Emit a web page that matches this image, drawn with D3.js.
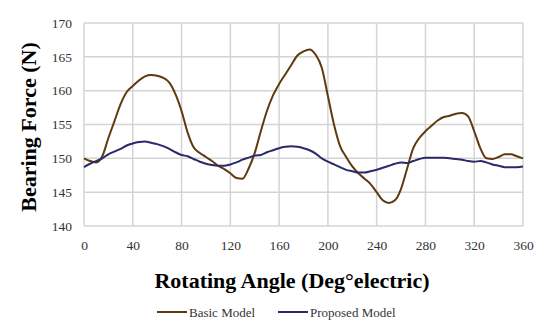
<!DOCTYPE html>
<html>
<head>
<meta charset="utf-8">
<script src="https://cdn.jsdelivr.net/npm/d3@7"></script>
<style>
  body { margin: 0; background: #fff; }
  svg { display: block; }
  .tick text { font-family: "Liberation Serif", "DejaVu Serif", serif; font-size: 13.5px; fill: #333; }
  .title { font-family: "Liberation Serif", serif; font-weight: bold; font-size: 22px; fill: #000; }
  .legend text { font-family: "Liberation Serif", serif; font-size: 13px; fill: #333; }
</style>
</head>
<body>
<div id="chart"></div>
<script>
'use strict';

// rotating angle, deg electric
var angles = [0, 5, 10, 15, 20, 25, 30, 35, 40, 45, 50, 55, 60, 65, 70, 75, 80, 85, 90,
  95, 100, 105, 110, 115, 120, 125, 130, 135, 140, 145, 150, 155, 160, 165, 170, 175, 180,
  185, 190, 195, 200, 205, 210, 215, 220, 225, 230, 235, 240, 245, 250, 255, 260, 265, 270,
  275, 280, 285, 290, 295, 300, 305, 310, 315, 320, 325, 330, 335, 340, 345, 350, 355, 360];

var basicModel = [150.0, 149.6, 149.4, 150.3, 153.0, 155.5, 158.0, 159.8, 160.7, 161.5,
  162.1, 162.3, 162.2, 161.9, 161.2, 159.5, 157.0, 153.8, 151.6, 150.8, 150.2, 149.6,
  148.9, 148.4, 147.8, 147.1, 147.0, 148.5, 150.8, 154.0, 157.0, 159.3, 161.0, 162.4,
  163.8, 165.2, 165.8, 166.1, 165.3, 163.4, 159.2, 155.0, 151.8, 150.2, 148.8, 147.8,
  147.0, 146.2, 145.0, 143.8, 143.4, 143.8, 145.5, 148.5, 151.5, 153.0, 154.0, 154.8,
  155.6, 156.1, 156.3, 156.6, 156.7, 156.2, 154.0, 151.5, 150.0, 149.9, 150.2, 150.6,
  150.6, 150.3, 150.0];

var proposedModel = [148.7, 149.2, 149.6, 150.0, 150.6, 151.0, 151.4, 151.9, 152.2, 152.4,
  152.5, 152.3, 152.1, 151.8, 151.4, 150.9, 150.5, 150.3, 149.9, 149.5, 149.2, 149.0,
  148.9, 148.9, 149.1, 149.4, 149.8, 150.1, 150.4, 150.5, 150.9, 151.2, 151.5, 151.7,
  151.8, 151.7, 151.5, 151.2, 150.7, 150.0, 149.5, 149.1, 148.7, 148.3, 148.1, 147.9,
  147.9, 148.1, 148.3, 148.6, 148.9, 149.2, 149.4, 149.3, 149.6, 149.9, 150.1, 150.1,
  150.1, 150.1, 150.0, 149.9, 149.8, 149.6, 149.5, 149.6, 149.4, 149.1, 148.9, 148.7,
  148.7, 148.7, 148.8];

var xTicks = [0, 40, 80, 120, 160, 200, 240, 280, 320, 360];
var yTicks = [140, 145, 150, 155, 160, 165, 170];

var seriesNames = ['Basic Model', 'Proposed Model'];
var seriesColors = ['#5e3a0e', '#2a2a68'];

var width = 550, height = 332;
var margin = {top: 23, right: 27, bottom: 106, left: 84};
var plotW = width - margin.left - margin.right;
var plotH = height - margin.top - margin.bottom;

var svg = d3.select('#chart').append('svg')
  .attr('width', width)
  .attr('height', height);

var g = svg.append('g')
  .attr('transform', 'translate(' + margin.left + ',' + margin.top + ')');

var x = d3.scaleLinear().domain([0, 360]).range([0, plotW]);
var y = d3.scaleLinear().domain([140, 170]).range([plotH, 0]);

// grid
g.append('g').selectAll('line.h')
  .data(yTicks)
  .enter().append('line')
  .attr('x1', 0).attr('x2', plotW)
  .attr('y1', function(d) { return y(d); })
  .attr('y2', function(d) { return y(d); })
  .attr('stroke', '#d4d4d4').attr('stroke-width', 1.5);

g.append('g').selectAll('line.v')
  .data(xTicks)
  .enter().append('line')
  .attr('y1', 0).attr('y2', plotH)
  .attr('x1', function(d) { return x(d); })
  .attr('x2', function(d) { return x(d); })
  .attr('stroke', '#d4d4d4').attr('stroke-width', 1.5);

// axes (labels only)
var xAxis = g.append('g')
  .attr('transform', 'translate(0,' + plotH + ')')
  .call(d3.axisBottom(x).tickValues(xTicks).tickSize(0).tickPadding(14));
xAxis.attr('font-family', null).attr('font-size', null);
xAxis.select('.domain').remove();

var yAxis = g.append('g')
  .call(d3.axisLeft(y).tickValues(yTicks).tickSize(0).tickPadding(12));
yAxis.attr('font-family', null).attr('font-size', null);
yAxis.select('.domain').remove();

// series
var line = d3.line()
  .x(function(d) { return x(d[0]); })
  .y(function(d) { return y(d[1]); })
  .curve(d3.curveMonotoneX);

[basicModel, proposedModel].forEach(function(values, i) {
  g.append('path')
    .datum(d3.zip(angles, values))
    .attr('fill', 'none')
    .attr('stroke', seriesColors[i])
    .attr('stroke-width', 2)
    .attr('stroke-linejoin', 'round')
    .attr('d', line);
});

// titles
svg.append('text')
  .attr('class', 'title')
  .attr('text-anchor', 'middle')
  .attr('transform', 'translate(36,127) rotate(-90)')
  .text('Bearing Force (N)');

svg.append('text')
  .attr('class', 'title')
  .attr('text-anchor', 'middle')
  .attr('x', 292)
  .attr('y', 288)
  .text('Rotating Angle (Deg\u00B0electric)');

// legend
var legendX = [157, 278];
var legend = svg.append('g').attr('class', 'legend');
seriesNames.forEach(function(name, i) {
  legend.append('line')
    .attr('x1', legendX[i]).attr('x2', legendX[i] + 30)
    .attr('y1', 312).attr('y2', 312)
    .attr('stroke', seriesColors[i]).attr('stroke-width', 2);
  legend.append('text')
    .attr('x', legendX[i] + 32)
    .attr('y', 316.5)
    .text(name);
});
</script>
</body>
</html>
